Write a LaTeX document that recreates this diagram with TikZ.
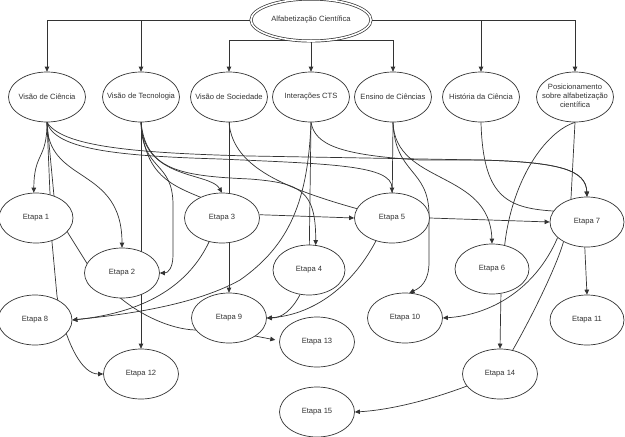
\documentclass[tikz,border=0pt]{standalone}
\usepackage{fontspec}
\setmainfont{Liberation Sans}
\usetikzlibrary{shapes.geometric,arrows.meta}
\pgfdeclarelayer{bg}
\pgfsetlayers{bg,main}
\newcommand{\myfs}{\fontsize{7.6}{9}\selectfont}
\newcommand{\zb}[1]{\makebox[0pt]{#1}}
\begin{document}
\begin{tikzpicture}[x=1pt,y=-1pt,
  oval/.style={draw=black!80, line width=0.7pt, ellipse, fill=white, minimum width=75pt, minimum height=50pt, inner sep=0pt, font=\myfs, text=black!80},
  link/.style={draw=black!80, line width=0.7pt},
  arr/.style={link, -{Triangle[length=5pt,width=4.5pt]}}]
\useasboundingbox (0,0) rectangle (625,437);

\node[oval, double, double distance=1.6pt, minimum width=120pt, minimum height=42pt] (A) at (311,20) {\zb{Alfabetização Científica}};
\node[oval, minimum width=77pt] (VC) at (47,97) {\zb{Visão de Ciência}};
\node[oval, minimum width=77pt] (VT) at (141,97) {\zb{Visão de Tecnologia}};
\node[oval, minimum width=77pt] (VS) at (229,97) {\zb{Visão de Sociedade}};
\node[oval, minimum width=77pt] (ICTS) at (311,97) {\zb{Interações CTS}};
\node[oval, minimum width=77pt] (ES) at (393,97) {\zb{Ensino de Ciências}};
\node[oval, minimum width=77pt] (HC) at (481,97) {\zb{História da Ciência}};
\node[oval, minimum width=77pt] (POS) at (575,97) {\zb{\begin{tabular}{@{}c@{}}Posicionamento\\sobre alfabetização\\científica\end{tabular}}};

\node[oval, minimum width=74pt] (E1) at (36,218) {\zb{Etapa 1}};
\node[oval] (E2) at (122,273) {\zb{Etapa 2}};
\node[oval] (E3) at (222,218) {\zb{Etapa 3}};
\node[oval, minimum width=72pt] (E4) at (309,270) {\zb{Etapa 4}};
\node[oval] (E5) at (392,218) {\zb{Etapa 5}};
\node[oval, minimum width=74pt] (E6) at (492,269) {\zb{Etapa 6}};
\node[oval, minimum width=74pt] (E7) at (587,222) {\zb{Etapa 7}};
\node[oval, minimum width=74pt] (E8) at (35,320) {\zb{Etapa 8}};
\node[oval] (E9) at (229,318) {\zb{Etapa 9}};
\node[oval] (E10) at (405,318) {\zb{Etapa 10}};
\node[oval, minimum width=74pt] (E11) at (587,320) {\zb{Etapa 11}};
\node[oval] (E12) at (141,374) {\zb{Etapa 12}};
\node[oval] (E13) at (317,342) {\zb{Etapa 13}};
\node[oval] (E14) at (500,374) {\zb{Etapa 14}};
\node[oval] (E15) at (317,412) {\zb{Etapa 15}};

\begin{pgfonlayer}{bg}
\fill[white] (0,0) rectangle (625,437);
% top level
\draw[arr] (A.west) -| (VC.north);
\draw[arr] (A.west) -| (VT.north);
\draw[arr] (A.235) -| (VS.north);
\draw[arr] (A.south) -- (ICTS.north);
\draw[arr] (A.305) -| (ES.north);
\draw[arr] (A.east) -| (HC.north);
\draw[arr] (A.east) -| (POS.north);
% Visao de Ciencia
\draw[arr] (VC.south) .. controls (47,160) and (34,152) .. (E1.95);
\draw[arr] (VC.south) -- (52,242) -- (57,296) -- (60,312) .. controls (68,345) and (82,374) .. (E12.west);
\draw[arr, shorten >=4pt] (VC.south) -- (54,196) -- (68,233) -- (88,265) -- (118,296) .. controls (140,315) and (170,329) .. (195,330) -- (255,336) -- (E13.178);
\draw[arr] (VC.south) .. controls (47,185) and (122,165) .. (E2.north);
\draw[arr] (VC.south) .. controls (55,150) and (120,156) .. (220,159) .. controls (330,164) and (392,165) .. (E5.north);
\draw[arr] (VC.south) .. controls (62,146) and (130,153) .. (250,156) -- (480,160) .. controls (560,162) and (586,170) .. (E7.north);
% Visao de Tecnologia
\draw[arr] (VT.south) -- (E12.north);
\draw[arr] (VT.south) .. controls (142,172) and (173,160) .. (173,205) -- (173,255) .. controls (173,268) and (168,273) .. (E2.east);
\draw[arr] (VT.south) .. controls (143,180) and (210,172) .. (E3.north);
\draw[arr] (VT.south) .. controls (145,175) and (170,185) .. (205,199) -- (209,242) .. controls (190,282) and (150,312) .. (E8.east);
\draw[arr] (VT.south) .. controls (146,170) and (180,176) .. (250,179) .. controls (300,183) and (316,190) .. (E4.75);
% Visao de Sociedade
\draw[arr] (VS.south) -- (E9.north);
\draw[link] (VS.south) .. controls (233,170) and (290,192) .. (E5.center);
% Interacoes CTS
\draw[link] (ICTS.south) -- (E4.center);
\draw[arr] (E4.250) .. controls (292,310) and (282,318) .. (E9.east);
\draw[arr] (ICTS.south) .. controls (308,200) and (290,245) .. (240,280) .. controls (190,308) and (110,316) .. (E8.east);
\draw[arr] (ICTS.south) .. controls (315,145) and (340,155) .. (420,160) -- (480,160) .. controls (560,162) and (586,170) .. (E7.north);
% Ensino de Ciencias
\draw[link] (ES.south) -- (E5.center);
\draw[arr] (E5.235) .. controls (350,290) and (310,315) .. (E9.east);
\draw[arr] (ES.south) .. controls (395,175) and (429,168) .. (429,215) -- (429,262) .. controls (429,282) and (420,288) .. (E10.80);
\draw[arr] (ES.south) .. controls (395,185) and (490,170) .. (E6.north);
% Historia da Ciencia
\draw[link] (HC.south) .. controls (483,195) and (505,208) .. (553,211) -- (E7.center);
% Posicionamento
\draw[link] (POS.south) -- (E7.125);
\draw[link] (POS.south) .. controls (545,132) and (512,180) .. (E6.62);
\draw[arr] (E6.290) -- (E14.north);
% etapas
\draw[arr] (E3.5) -- (E5.west);
\draw[arr] (E5.east) -- (E7.west);
\draw[arr] (E7.265) -- (E11.north);
\draw[arr] (E7.208) .. controls (535,290) and (490,315) .. (E10.east);
\draw[link] (E7.220) .. controls (556,268) and (530,320) .. (E14.62);
\draw[arr] (E14.200) .. controls (430,400) and (390,410) .. (E15.east);
\end{pgfonlayer}
\end{tikzpicture}
\end{document}
